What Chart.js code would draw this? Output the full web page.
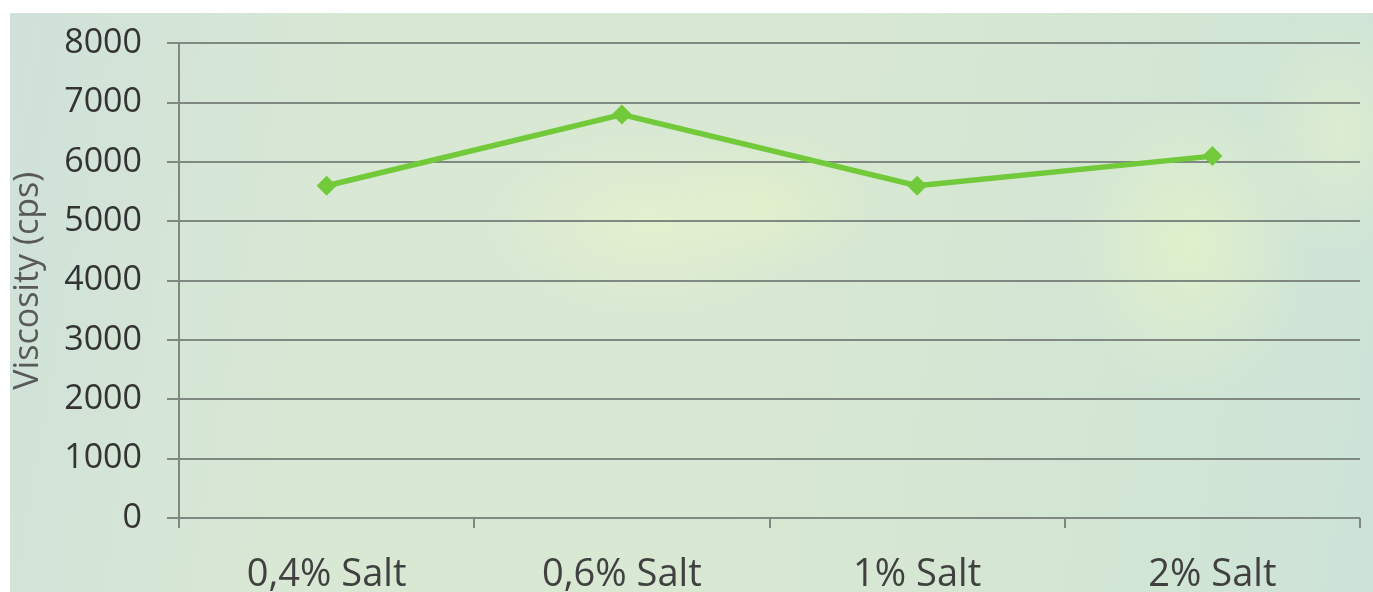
<!DOCTYPE html>
<html lang="en">
<head>
  <meta charset="UTF-8">
  <title>Viscosity vs salt</title>
  <script src="https://cdn.jsdelivr.net/npm/chart.js"></script>
  <style>
    html, body { margin: 0; padding: 0; background: #fff; overflow: hidden; }
    #fondo {
      position: absolute; left: 10px; top: 13px; width: 1363px; height: 579px;
      background:
        radial-gradient(ellipse 160px 90px at 640px 210px, rgba(232,245,205,0.7), rgba(232,245,205,0)),
        radial-gradient(ellipse 110px 70px at 760px 190px, rgba(228,243,200,0.6), rgba(228,243,200,0)),
        radial-gradient(ellipse 120px 150px at 1180px 230px, rgba(230,245,200,0.7), rgba(230,245,200,0)),
        radial-gradient(ellipse 90px 130px at 1330px 120px, rgba(225,240,205,0.7), rgba(225,240,205,0)),
        linear-gradient(100deg, #cfe1d9 0%, #d9e8d4 25%, #d8e8d2 55%, #d3e6d4 80%, #cde3d8 100%);
    }
    #grafico { position: absolute; left: 0; top: -2px; }
  </style>
</head>
<body>
  <div id="fondo"></div>
  <canvas id="grafico" width="1373" height="594"></canvas>

  <script>
    const categorias = ['0,4% Salt', '0,6% Salt', '1% Salt', '2% Salt'];
    const viscosidad = [5600, 6800, 5600, 6100];
    const yMin = 0, yMax = 8000, yPaso = 1000;

    const gris = '#7f8982';
    const verde = '#72c93a';

    const ctx = document.getElementById('grafico').getContext('2d');
    new Chart(ctx, {
      type: 'line',
      data: {
        labels: categorias,
        datasets: [{
          label: 'Viscosity',
          data: viscosidad,
          borderColor: verde,
          backgroundColor: verde,
          borderWidth: 5.5,
          pointStyle: 'rectRot',
          pointRadius: 10,
          pointBorderWidth: 0,
          tension: 0,
          fill: false
        }]
      },
      options: {
        responsive: false,
        animation: false,
        layout: { padding: { top: 0, right: 13, left: 8, bottom: 0 } },
        plugins: { legend: { display: false }, tooltip: { enabled: false } },
        scales: {
          x: {
            offset: true,
            grid: { offset: true, drawOnChartArea: false, drawTicks: true, tickLength: 10, color: gris, lineWidth: 2 },
            border: { display: false },
            ticks: { color: '#404040', font: { family: 'Open Sans', size: 38 }, padding: 24, maxRotation: 0 },
            afterFit: s => { s.height = 74; }
          },
          y: {
            min: yMin, max: yMax,
            afterFit: s => { s.width = 171; },
            ticks: {
              stepSize: yPaso, color: '#333', font: { family: 'Open Sans', size: 34 }, padding: 25,
              callback: v => String(v)
            },
            grid: { color: gris, lineWidth: 2, drawTicks: true, tickLength: 12 },
            border: { display: true, color: gris, width: 2 },
            title: { display: true, text: 'Viscosity (cps)', color: '#595959', font: { family: 'Open Sans', size: 34 }, padding: 0 }
          }
        }
      }
    });
  </script>
</body>
</html>
